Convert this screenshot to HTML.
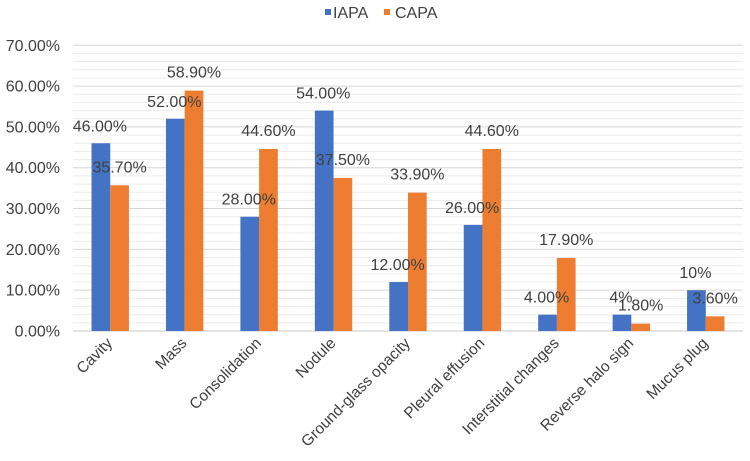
<!DOCTYPE html>
<html><head><meta charset="utf-8"><style>
body{margin:0;background:#fff;}
svg{display:block;font-family:"Liberation Sans",Arial,sans-serif;}
</style></head><body>
<svg id="chart" width="750" height="461" viewBox="0 0 750 461">
<g id="grid"></g>
<g id="yaxis"></g>
<g id="bars"></g>
<g id="labels"></g>
<g id="xaxis"></g>
<g>
<rect x="325" y="9" width="6" height="6" fill="#4472C4"/>
<text x="333" y="18" font-size="16" fill="#404040">IAPA</text>
<rect x="384" y="9" width="6" height="6" fill="#ED7D31"/>
<text x="395" y="18" font-size="16" fill="#404040">CAPA</text>
</g>
</svg>
<script>
const categories=["Cavity","Mass","Consolidation","Nodule","Ground-glass opacity","Pleural effusion","Interstitial changes","Reverse halo sign","Mucus plug"];
const iapa=[46,52,28,54,12,26,4,4,10];
const capa=[35.7,58.9,44.6,37.5,33.9,44.6,17.9,1.8,3.6];
const iapaLabels=["46.00%","52.00%","28.00%","54.00%","12.00%","26.00%","4.00%","4%","10%"];
const capaLabels=["35.70%","58.90%","44.60%","37.50%","33.90%","44.60%","17.90%","1.80%","3.60%"];
const yTicks=[0,10,20,30,40,50,60,70];
const yTickLabels=["0.00%","10.00%","20.00%","30.00%","40.00%","50.00%","60.00%","70.00%"];

const NS="http://www.w3.org/2000/svg";
const x0=73,x1=743,yBase=331,yTop=45.3,yMax=70;
const band=(x1-x0)/categories.length,bw=18.7;
const y=v=>yBase-(v/yMax)*(yBase-yTop);
const cx=i=>x0+band*(i+0.5);
function mk(tag,attrs,parent){const e=document.createElementNS(NS,tag);for(const k in attrs)e.setAttribute(k,attrs[k]);document.getElementById(parent).appendChild(e);return e;}

for(let v=2;v<yMax;v+=2){if(v%10===0)continue;
const l=mk('line',{x1:x0,x2:x1,y1:y(v),y2:y(v),stroke:'#ececec','stroke-width':1},'grid');

}
yTicks.forEach((t,i)=>{
const l=mk('line',{x1:x0,x2:x1,y1:y(t),y2:y(t),stroke:t===0?'#c8c8c8':'#d6d6d6','stroke-width':1},'grid');


const tx=mk('text',{x:60,y:y(t)+5.5,'text-anchor':'end','font-size':16,fill:'#404040'},'yaxis');
tx.textContent=yTickLabels[i];


});
categories.forEach((c,i)=>{
const b1=mk('rect',{x:cx(i)-bw,y:y(iapa[i]),width:bw,height:yBase-y(iapa[i]),fill:'#4472C4'},'bars');


const b2=mk('rect',{x:cx(i),y:y(capa[i]),width:bw,height:yBase-y(capa[i]),fill:'#ED7D31'},'bars');


const l1=mk('text',{x:cx(i)-bw/2-1,y:y(iapa[i])-12,'text-anchor':'middle','font-size':16,fill:'#404040'},'labels');
l1.textContent=iapaLabels[i];


const l2=mk('text',{x:cx(i)+bw/2,y:y(capa[i])-13,'text-anchor':'middle','font-size':16,fill:'#404040'},'labels');
l2.textContent=capaLabels[i];


const tx=mk('text',{x:cx(i)+3,y:344,'text-anchor':'end','font-size':15.5,fill:'#404040',transform:`rotate(-45 ${cx(i)+3} 344)`},'xaxis');
tx.textContent=c;


});
</script>
</body></html>
